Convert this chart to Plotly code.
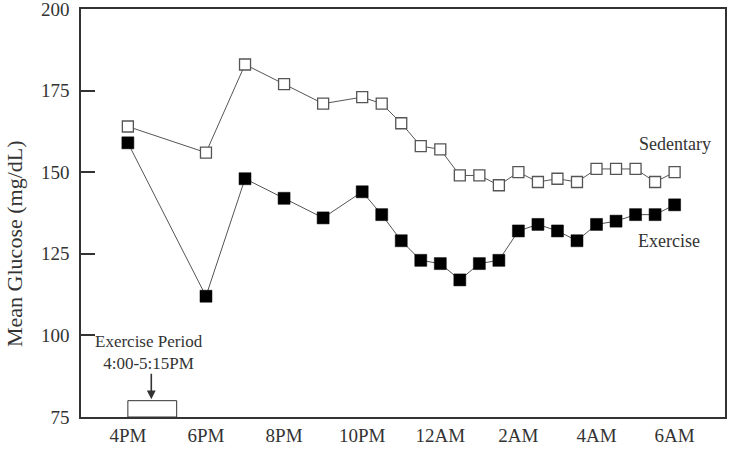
import plotly.graph_objects as go

# hours on a 24h clock continuing past midnight (16 = 4PM, 24 = 12AM, 30 = 6AM)
hours = [16, 18, 19, 20, 21, 22, 22.5, 23, 23.5, 24, 24.5, 25, 25.5, 26,
         26.5, 27, 27.5, 28, 28.5, 29, 29.5, 30]
sedentary = [164, 156, 183, 177, 171, 173, 171, 165, 158, 157, 149, 149, 146, 150,
             147, 148, 147, 151, 151, 151, 147, 150]
exercise = [159, 112, 148, 142, 136, 144, 137, 129, 123, 122, 117, 122, 123, 132,
            134, 132, 129, 134, 135, 137, 137, 140]

tick_hours = [16, 18, 20, 22, 24, 26, 28, 30]
tick_labels = ["4PM", "6PM", "8PM", "10PM", "12AM", "2AM", "4AM", "6AM"]
y_ticks = [75, 100, 125, 150, 175, 200]

exercise_start, exercise_end = 16, 17.25
FONT = "Liberation Serif"

fig = go.Figure()
fig.add_trace(go.Scatter(
    x=hours, y=sedentary, mode="lines+markers", name="Sedentary",
    line=dict(color="#555555", width=1),
    marker=dict(symbol="square", size=11, color="white",
                line=dict(color="#555555", width=1.3)),
))
fig.add_trace(go.Scatter(
    x=hours, y=exercise, mode="lines+markers", name="Exercise",
    line=dict(color="#555555", width=1),
    marker=dict(symbol="square", size=12, color="black",
                line=dict(color="black", width=0.5)),
))

fig.add_shape(type="rect", x0=exercise_start, x1=exercise_end, y0=75, y1=80,
              line=dict(color="#333333", width=1), fillcolor="white", layer="above")

fig.add_annotation(x=16.55, y=94.8, text="Exercise Period<br>4:00-5:15PM",
                   showarrow=False, font=dict(family=FONT, size=17, color="#333333"),
                   align="center")
fig.add_annotation(x=16.6, y=80.4, text="", showarrow=True, ax=0, ay=-27,
                   arrowhead=2, arrowsize=1.1, arrowwidth=1.6, arrowcolor="#333333")
fig.add_annotation(x=30, y=158.5, text="Sedentary", showarrow=False,
                   font=dict(family=FONT, size=18, color="#333333"))
fig.add_annotation(x=29.85, y=129, text="Exercise", showarrow=False,
                   font=dict(family=FONT, size=18, color="#333333"))
# y-axis title, placed like the reference (lower than the plot centre)
fig.add_annotation(xref="paper", yref="paper", x=-0.1025, y=0.4265,
                   xanchor="center", yanchor="middle", textangle=-90,
                   text="Mean Glucose (mg/dL)", showarrow=False,
                   font=dict(family=FONT, size=22, color="#333333"))

fig.update_layout(
    width=732, height=450,
    margin=dict(l=81, r=7, t=9, b=33),
    paper_bgcolor="white", plot_bgcolor="white",
    showlegend=False,
    font=dict(family=FONT, size=18, color="#333333"),
)
fig.update_xaxes(range=[14.8, 31.29], tickvals=tick_hours, ticktext=tick_labels,
                 automargin=False,
                 showgrid=False, zeroline=False, showline=True, linecolor="#333333",
                 linewidth=1.5, mirror=True, ticks="",
                 tickfont=dict(family=FONT, size=19, color="#333333"))
fig.update_yaxes(range=[75, 200], tickvals=y_ticks, showgrid=False, zeroline=False,
                 automargin=False, ticklabeloverflow="allow", ticklabelstandoff=6,
                 showline=True, linecolor="#333333", linewidth=1.5, mirror=True,
                 ticks="inside", ticklen=14, tickwidth=1.5, tickcolor="#333333",
                 tickfont=dict(family=FONT, size=19, color="#333333"))

fig.write_html("out.html", config={"displayModeBar": False},
               post_script="document.body.style.margin='0';document.body.style.padding='0';")
